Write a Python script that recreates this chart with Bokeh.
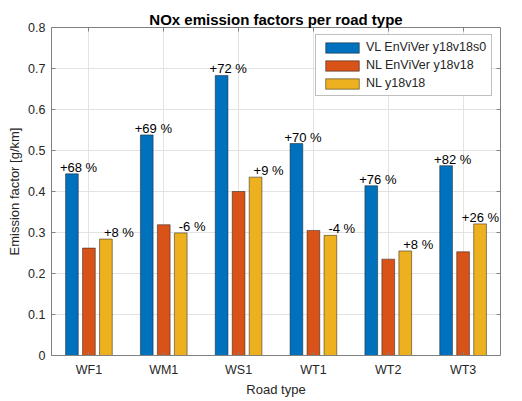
import numpy as np
from bokeh.plotting import figure
from bokeh.models import ColumnDataSource, FixedTicker, LinearAxis, Legend, LegendItem, Range1d, Label
from bokeh.transform import dodge
from bokeh.embed import file_html
from bokeh.resources import INLINE

road_types = ["WF1", "WM1", "WS1", "WT1", "WT2", "WT3"]
vl_enviver = [0.443, 0.538, 0.683, 0.517, 0.414, 0.463]
nl_enviver = [0.262, 0.319, 0.400, 0.305, 0.235, 0.253]
nl_y18 = [0.284, 0.299, 0.435, 0.293, 0.255, 0.321]
vl_labels = ["+68 %", "+69 %", "+72 %", "+70 %", "+76 %", "+82 %"]
nl_labels = ["+8 %", "-6 %", "+9 %", "-4 %", "+8 %", "+26 %"]
series_names = ["VL EnViVer y18v18s0", "NL EnViVer y18v18", "NL y18v18"]
colors = ["#0072BD", "#D95319", "#EDB120"]

FONT = "Liberation Sans"
TXT = "#262626"
AX = "#808080"

xs = list(range(1, len(road_types) + 1))
src = ColumnDataSource(dict(x=xs, vl=vl_enviver, nle=nl_enviver, nly=nl_y18))

p = figure(frame_width=449, frame_height=328, output_backend="svg", toolbar_location=None,
           x_range=Range1d(0.5, 6.5), y_range=Range1d(0, 0.8),
           min_border_left=51, min_border_right=11, min_border_top=27, min_border_bottom=0)

off = 0.227
w = 0.17
r1 = p.vbar(x=dodge("x", -off, range=p.x_range), top="vl", width=w, source=src,
            fill_color=colors[0], line_color="#1a1a1a", line_width=0.5)
r2 = p.vbar(x=dodge("x", 0, range=p.x_range), top="nle", width=w, source=src,
            fill_color=colors[1], line_color="#1a1a1a", line_width=0.5)
r3 = p.vbar(x=dodge("x", off, range=p.x_range), top="nly", width=w, source=src,
            fill_color=colors[2], line_color="#1a1a1a", line_width=0.5)

for xi, v, t in zip(xs, vl_enviver, vl_labels):
    p.add_layout(Label(x=xi - off, y=v, text=t, x_offset=-12, y_offset=-1,
                       text_align="left", text_baseline="bottom",
                       text_font=FONT, text_font_size="13px", text_color="#000000"))
for i, (xi, v, t) in enumerate(zip(xs, nl_y18, nl_labels)):
    last = i == len(xs) - 1
    # the last label would run past the axes box (clipped in Bokeh): right-align it at the box edge
    p.add_layout(Label(x=xi + off, y=v, text=t, x_offset=(19 if last else -2), y_offset=-1,
                       text_align=("right" if last else "left"), text_baseline="bottom",
                       text_font=FONT, text_font_size="13px", text_color="#000000"))

yt = [0, 0.1, 0.2, 0.3, 0.4, 0.5, 0.6, 0.7, 0.8]
p.xaxis.ticker = FixedTicker(ticks=xs)
p.xaxis.major_label_overrides = {i + 1: n for i, n in enumerate(road_types)}
p.yaxis.ticker = FixedTicker(ticks=yt)
p.yaxis.major_label_overrides = {t: ("0" if t == 0 else f"{t:.1f}") for t in yt}

for ax in [p.xaxis[0], p.yaxis[0]]:
    ax.major_label_text_font = FONT
    ax.major_label_text_font_size = "12.5px"
    ax.major_label_text_color = TXT
    ax.axis_label_text_font = FONT
    ax.axis_label_text_font_size = "13px"
    ax.axis_label_text_font_style = "normal"
    ax.axis_label_text_color = TXT
    ax.major_tick_in = 4
    ax.major_tick_out = 0
    ax.minor_tick_line_color = None
    ax.axis_line_color = AX
    ax.major_tick_line_color = AX
p.xaxis.axis_label = "Road type"
p.yaxis.axis_label = "Emission factor [g/km]"
p.xaxis.major_label_standoff = 7
p.yaxis.major_label_standoff = 6
p.xaxis.axis_label_standoff = 2
p.yaxis.axis_label_standoff = 3

top_ax = LinearAxis(ticker=FixedTicker(ticks=xs),
                    major_label_overrides={t: "" for t in xs}, major_label_standoff=0,
                    major_tick_in=4, major_tick_out=0, minor_tick_line_color=None,
                    axis_line_color=AX, major_tick_line_color=AX)
right_ax = LinearAxis(ticker=FixedTicker(ticks=yt[1:-1]),
                      major_label_overrides={t: "" for t in yt[1:-1]}, major_label_standoff=0,
                      major_tick_in=4, major_tick_out=0, minor_tick_line_color=None,
                      axis_line_color=AX, major_tick_line_color=AX)
p.add_layout(top_ax, "above")
p.add_layout(right_ax, "right")

p.xgrid.grid_line_color = "#e3e3e3"
p.ygrid.grid_line_color = "#e3e3e3"
p.outline_line_color = None

p.title.text = "NOx emission factors per road type"
p.title.text_font = FONT
p.title.text_font_size = "15px"
p.title.text_font_style = "bold"
p.title.align = "center"
p.title.text_color = "#000000"
p.title.standoff = 0

legend = Legend(items=[LegendItem(label=series_names[0], renderers=[r1]),
                       LegendItem(label=series_names[1], renderers=[r2]),
                       LegendItem(label=series_names[2], renderers=[r3])],
                location=(264, 259))
legend.glyph_width = 42
legend.glyph_height = 13
legend.label_text_font = FONT
legend.label_text_font_size = "12.5px"
legend.label_text_color = TXT
legend.label_standoff = 3
legend.spacing = 4
legend.padding = 5
legend.margin = 0
legend.border_line_color = AX
legend.label_height = 13
p.add_layout(legend)

open("out.html", "w").write(file_html(p, INLINE))
